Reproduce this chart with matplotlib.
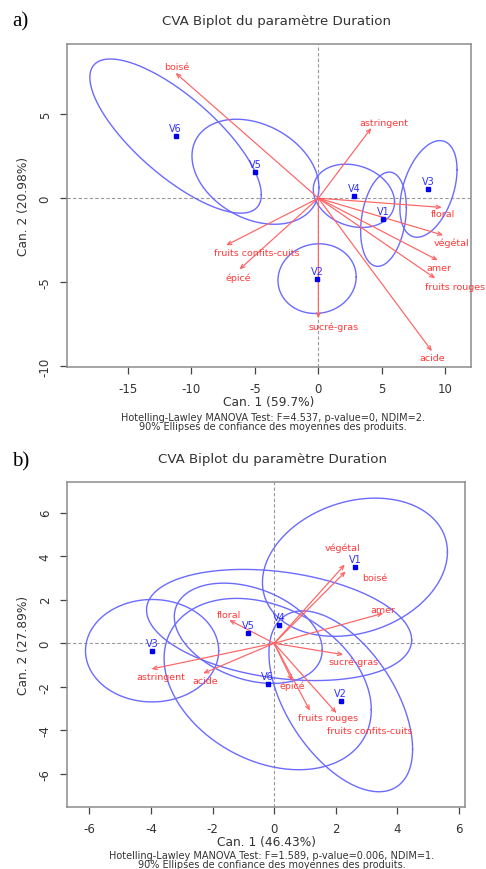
import numpy as np
import matplotlib
matplotlib.use('Agg')
import matplotlib.pyplot as plt

# --- panel a) data ---
a_products = ['V1', 'V2', 'V3', 'V4', 'V5', 'V6']
a_prod_x = [5.13, -0.10, 8.67, 2.80, -4.95, -11.24]
a_prod_y = [-1.25, -4.78, 0.55, 0.14, 1.57, 3.69]
# 90% confidence ellipses: half extent in x, half extent in y, correlation
a_ell_rx = [1.80, 3.08, 2.25, 3.20, 5.00, 6.75]
a_ell_ry = [2.80, 2.07, 2.87, 1.88, 3.12, 4.58]
a_ell_rho = [0.25, 0.05, 0.40, -0.20, -0.30, -0.76]

a_attrs = ['boisé', 'astringent', 'floral', 'végétal', 'amer', 'fruits rouges',
           'acide', 'sucré-gras', 'fruits confits-cuits', 'épicé']
a_attr_x = [-11.24, 4.17, 9.72, 9.83, 9.41, 9.20, 8.94, 0.0, -7.26, -6.21]
a_attr_y = [7.44, 4.17, -0.55, -2.20, -3.69, -4.76, -9.09, -7.14, -2.80, -4.23]

# --- panel b) data ---
b_products = ['V1', 'V2', 'V3', 'V4', 'V5', 'V6']
b_prod_x = [2.62, 2.16, -3.96, 0.16, -0.84, -0.21]
b_prod_y = [3.49, -2.66, -0.34, 0.84, 0.46, -1.87]
b_ell_rx = [3.00, 2.33, 2.16, 4.30, 2.40, 3.36]
b_ell_ry = [3.17, 4.15, 2.35, 2.55, 2.30, 3.93]
b_ell_rho = [0.22, -0.53, 0.0, -0.27, -0.33, -0.30]

b_attrs = ['végétal', 'boisé', 'amer', 'floral', 'sucré-gras', 'astringent',
           'acide', 'épicé', 'fruits rouges', 'fruits confits-cuits']
b_attr_x = [2.29, 2.32, 3.54, -1.46, 2.24, -3.98, -2.30, 0.58, 1.16, 2.02]
b_attr_y = [3.61, 3.30, 1.38, 1.07, -0.52, -1.18, -1.38, -1.71, -3.09, -3.20]

# label offsets in pixels (dx right, dy down) from arrow tips
a_offsets = {'boisé': (1, -6), 'astringent': (13, -5), 'floral': (1, 6),
             'végétal': (8, 7), 'amer': (1, 7), 'fruits rouges': (20, 8),
             'acide': (0, 6), 'sucré-gras': (15, 8),
             'fruits confits-cuits': (31, 7), 'épicé': (-1, 8)}
b_offsets = {'végétal': (-2, -17), 'boisé': (29, 6), 'amer': (0, -4),
             'floral': (0, -5), 'sucré-gras': (10, 7), 'astringent': (9, 7),
             'acide': (2, 7), 'épicé': (0, 5), 'fruits rouges': (18, 7),
             'fruits confits-cuits': (33, 17)}

ELL_COL = '#6b6bff'
ARR_COL = '#ff6262'
TXT_RED = '#ff3a3a'
PT_COL = '#0000ee'
GREY = '#444444'

W, H = 486, 870
fig = plt.figure(figsize=(W / 100, H / 100), dpi=100)


def biplot(rect, xlim, ylim, xticks, yticks, px, py, names, rx, ry, rho,
           attrs, ax_, ay_, offsets, xlabel, ylabel):
    ax = fig.add_axes(rect)
    ax.set_xlim(*xlim)
    ax.set_ylim(*ylim)
    ax.axhline(0, color='#999999', lw=0.8, ls=(0, (3, 2)), zorder=1)
    ax.axvline(0, color='#999999', lw=0.8, ls=(0, (3, 2)), zorder=1)

    t = np.linspace(0, 2 * np.pi, 300)
    for cx, cy, a, b, r in zip(px, py, rx, ry, rho):
        ex = cx + a * np.cos(t)
        ey = cy + b * (r * np.cos(t) + np.sqrt(1 - r ** 2) * np.sin(t))
        ax.plot(ex, ey, color=ELL_COL, lw=1.0, zorder=2)

    for name, x, y in zip(attrs, ax_, ay_):
        ax.annotate('', xy=(x, y), xytext=(0, 0),
                    arrowprops=dict(arrowstyle='->,head_length=0.3,head_width=0.13',
                                    color=ARR_COL, lw=0.85, shrinkA=0, shrinkB=0),
                    zorder=3)
        dx, dy = offsets[name]
        ax.annotate(name, xy=(x, y), xytext=(dx, -dy), textcoords='offset pixels',
                    ha='center', va='center', color=TXT_RED, fontsize=6.8, zorder=4)

    ax.plot(px, py, 's', color=PT_COL, ms=3.3, zorder=5)
    for name, x, y in zip(names, px, py):
        ax.annotate(name, xy=(x, y), xytext=(0, 8), textcoords='offset pixels',
                    ha='center', va='center', color='#3030ff', fontsize=7, zorder=5)

    ax.set_xticks(xticks)
    ax.set_yticks(yticks)
    ax.set_xticklabels([str(v) for v in xticks])
    ax.set_yticklabels([str(v) for v in yticks], rotation=90, va='center')
    ax.tick_params(direction='out', length=5, width=0.9, color=GREY,
                   labelsize=8.5, labelcolor='#333333', pad=6)
    for s in ax.spines.values():
        s.set_color('#8c8c8c')
        s.set_linewidth(1.1)
    ax.set_xlabel(xlabel, fontsize=8.8, color='#333333', labelpad=0)
    ax.set_ylabel(ylabel, fontsize=8.8, color='#333333', labelpad=6)
    return ax


# panel a) axes in pixels: x 67..471, y 45..368
biplot([67 / W, 1 - 368 / H, (471 - 67) / W, (368 - 45) / H],
       (-19.79, 12.02), (-10.03, 9.16), [-15, -10, -5, 0, 5, 10], [-10, -5, 0, 5],
       a_prod_x, a_prod_y, a_products, a_ell_rx, a_ell_ry, a_ell_rho,
       a_attrs, a_attr_x, a_attr_y, a_offsets,
       'Can. 1 (59.7%)', 'Can. 2 (20.98%)')

# panel b) axes in pixels: x 67..465, y 483..808
biplot([67 / W, 1 - 808 / H, (465 - 67) / W, (808 - 483) / H],
       (-6.72, 6.19), (-7.51, 7.40), [-6, -4, -2, 0, 2, 4, 6], [-6, -4, -2, 0, 2, 4, 6],
       b_prod_x, b_prod_y, b_products, b_ell_rx, b_ell_ry, b_ell_rho,
       b_attrs, b_attr_x, b_attr_y, b_offsets,
       'Can. 1 (46.43%)', 'Can. 2 (27.89%)')

title = 'CVA Biplot du paramètre Duration'
fig.text(276 / W, 1 - 21 / H, title, ha='center', va='center', fontsize=9.6, color='#333333')
fig.text(272 / W, 1 - 460 / H, title, ha='center', va='center', fontsize=9.6, color='#333333')

fig.text(12 / W, 1 - 22 / H, 'a)', ha='left', va='center', fontsize=15,
         family='Liberation Serif')
fig.text(12 / W, 1 - 462 / H, 'b)', ha='left', va='center', fontsize=15,
         family='Liberation Serif')

fig.text(273 / W, 1 - 418 / H, 'Hotelling-Lawley MANOVA Test: F=4.537, p-value=0, NDIM=2.',
         ha='center', va='center', fontsize=7, color='#333333')
fig.text(273 / W, 1 - 427.5 / H, '90% Ellipses de confiance des moyennes des produits.',
         ha='center', va='center', fontsize=7, color='#333333')
fig.text(272 / W, 1 - 856.5 / H, 'Hotelling-Lawley MANOVA Test: F=1.589, p-value=0.006, NDIM=1.',
         ha='center', va='center', fontsize=7, color='#333333')
fig.text(272 / W, 1 - 865 / H, '90% Ellipses de confiance des moyennes des produits.',
         ha='center', va='center', fontsize=7, color='#333333')

fig.savefig('out.png', dpi=100)
